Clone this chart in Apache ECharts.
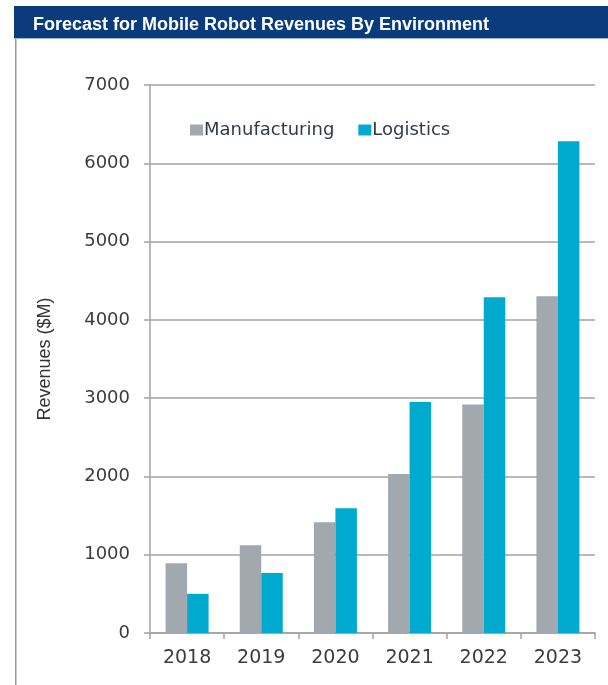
<!DOCTYPE html>
<html>
<head>
<meta charset="utf-8">
<script src="https://cdn.jsdelivr.net/npm/echarts@6/dist/echarts.min.js"></script>
<style>
  html, body { margin: 0; padding: 0; background: #ffffff; }
  #chart { width: 608px; height: 685px; }
</style>
</head>
<body>
<div id="chart"></div>
<script>
// Mobile robot revenue forecast, $M per year
const years = ['2018', '2019', '2020', '2021', '2022', '2023'];
const manufacturing = [890, 1120, 1415, 2030, 2920, 4300];
const logistics = [500, 765, 1595, 2950, 4290, 6280];
const yTicks = { min: 0, max: 7000, interval: 1000 };

const titleText = 'Forecast for Mobile Robot Revenues By Environment';
const axisText = '#3c3c3c';
const lineColor = '#a3a3a3';

const chart = echarts.init(document.getElementById('chart'));
chart.setOption({
  backgroundColor: '#ffffff',
  animation: false,
  graphic: [
    // header band
    { type: 'rect', shape: { x: 14, y: 6, width: 594, height: 32 }, style: { fill: '#0a3c7d' }, z: 0 },
    { type: 'rect', shape: { x: 14, y: 38, width: 594, height: 1 }, style: { fill: '#9bb6d6' }, z: 0 },
    // left frame line
    { type: 'rect', shape: { x: 15, y: 39, width: 1.5, height: 646 }, style: { fill: '#9a9a9a' }, z: 0 }
  ],
  title: {
    text: titleText,
    left: 28,
    top: 11,
    textStyle: { color: '#ffffff', fontFamily: 'Liberation Sans', fontWeight: 'bold', fontSize: 18 }
  },
  legend: {
    left: 185,
    top: 116,
    itemWidth: 13,
    itemHeight: 11,
    itemGap: 24,
    icon: 'rect',
    textStyle: { color: '#333a48', fontFamily: 'DejaVu Sans', fontSize: 18, padding: [0, 0, 0, -4] },
    data: ['Manufacturing', 'Logistics']
  },
  grid: { left: 150, right: 13, top: 85, bottom: 52, containLabel: false },
  xAxis: {
    type: 'category',
    data: years,
    axisLine: { lineStyle: { color: lineColor, width: 1.5 } },
    axisTick: { show: true, length: 6, lineStyle: { color: lineColor, width: 1.5 } },
    axisLabel: { color: axisText, fontFamily: 'DejaVu Sans', fontSize: 19, margin: 16 }
  },
  yAxis: {
    type: 'value',
    min: yTicks.min,
    max: yTicks.max,
    interval: yTicks.interval,
    name: 'Revenues ($M)',
    nameLocation: 'middle',
    nameGap: 96,
    nameTextStyle: { color: '#333333', fontFamily: 'Liberation Sans', fontSize: 18 },
    axisLine: { show: true, lineStyle: { color: lineColor, width: 1.5 } },
    axisTick: { show: true, length: 6, lineStyle: { color: lineColor, width: 1.5 } },
    splitLine: { show: true, lineStyle: { color: lineColor, width: 1.5 } },
    axisLabel: {
      color: axisText, fontFamily: 'DejaVu Sans', fontSize: 18, margin: 20,
      formatter: function (v) { return String(v); }
    }
  },
  series: [
    {
      name: 'Manufacturing',
      type: 'bar',
      data: manufacturing,
      barWidth: 21.5,
      barGap: '0%',
      itemStyle: { color: '#a2a9ae' }
    },
    {
      name: 'Logistics',
      type: 'bar',
      data: logistics,
      barWidth: 21.5,
      itemStyle: { color: '#00aacf' }
    }
  ]
});
</script>
</body>
</html>
